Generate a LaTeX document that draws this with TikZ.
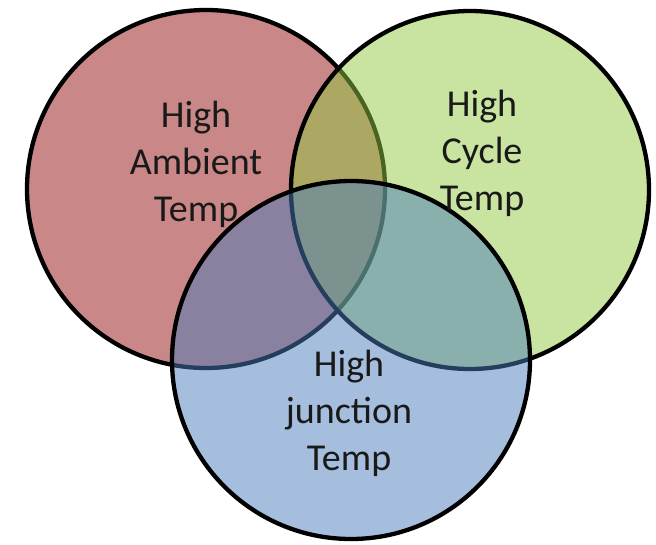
\documentclass[tikz,border=0pt]{standalone}
\usepackage{fontspec}
\setmainfont{Carlito}
\definecolor{ambred}{RGB}{201,135,135}
\definecolor{cycgreen}{RGB}{145,201,65}
\definecolor{junblue}{RGB}{77,125,187}
\definecolor{labelink}{RGB}{25,25,25}
\begin{document}
\begin{tikzpicture}[x=1pt,y=-1pt,
  setcircle/.style={circle, draw=black, line width=4.3pt, minimum size=358pt, inner sep=0pt},
  setlabel/.style={align=center, font=\fontsize{38}{47}\selectfont, text=labelink, inner sep=0pt}]
\useasboundingbox (0,0) rectangle (656,544);
% the three overlapping sets, each later one tinting what lies beneath
\node[setcircle, fill=ambred] (amb) at (206,189) {};
\node[setcircle, fill=cycgreen, fill opacity=0.5] (cyc) at (470,190) {};
\node[setcircle, fill=junblue, fill opacity=0.5] (jun) at (351,360) {};
% set labels
\node[setlabel] (ambtext) at (196,164) {High\\Ambient\\Temp};
\node[setlabel] (cyctext) at (482,153) {High\\Cycle\\Temp};
\node[setlabel] (juntext) at (349,413) {High\\junction\\Temp};
\end{tikzpicture}
\end{document}
